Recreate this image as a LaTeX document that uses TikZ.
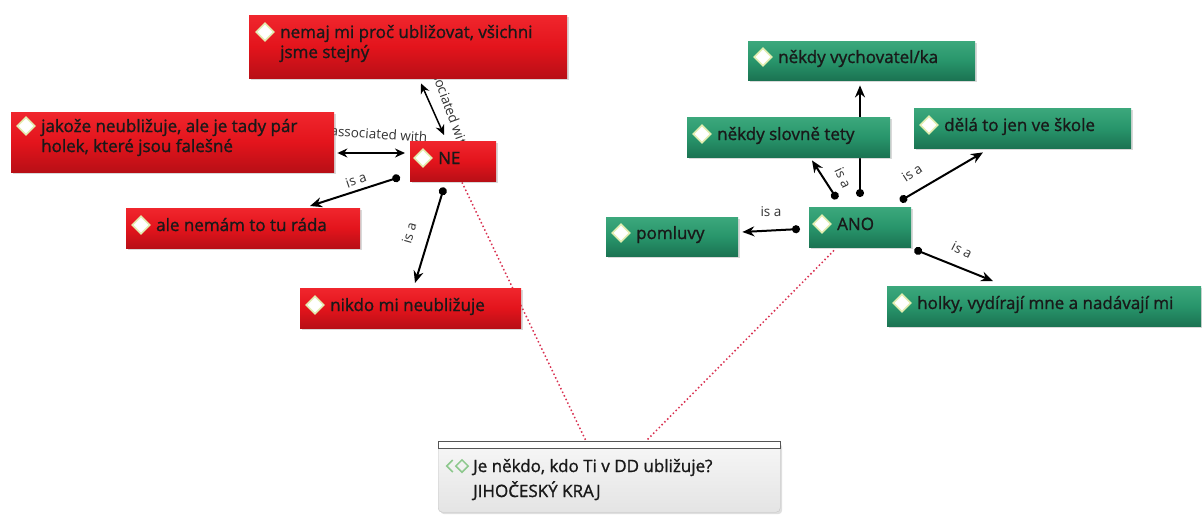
\documentclass[tikz,border=0pt]{standalone}
\usepackage{fontspec}
\setmainfont{Open Sans}
\newfontfamily\nodefont[FakeBold=1.2]{Open Sans}
\usetikzlibrary{calc,arrows.meta,shadows,shapes.geometric}
\definecolor{redT}{HTML}{F0262D}
\definecolor{redM}{HTML}{E3141C}
\definecolor{redB}{HTML}{B80F16}
\definecolor{grnT}{HTML}{3CA87C}
\definecolor{grnM}{HTML}{28956B}
\definecolor{grnB}{HTML}{1B7352}
\definecolor{lblc}{HTML}{333333}
\definecolor{dotc}{HTML}{D83050}
\definecolor{glow}{HTML}{E2EDB0}
\definecolor{qicon}{HTML}{8CC88C}
\definecolor{qtop}{HTML}{F7F7F7}
\definecolor{qbot}{HTML}{E4E4E4}
\definecolor{qline}{HTML}{C4C4C4}
\definecolor{qstrip}{HTML}{555555}
\pgfdeclarelayer{bg}
\pgfsetlayers{bg,main}
\newcommand\twol[2]{\vtop{\hbox{#1}\hbox{#2}}}
\tikzset{
 box/.style={anchor=north west, inner sep=0pt, draw=none, drop shadow={shadow xshift=2pt, shadow yshift=-2pt, opacity=0.3}},
 redbox/.style={box, top color=redT, bottom color=redB, middle color=redM},
 grnbox/.style={box, top color=grnT, bottom color=grnB, middle color=grnM},
 qbox/.style={anchor=north west, inner sep=0pt, draw=qline, rounded corners=4pt, top color=qtop, bottom color=qbot, drop shadow={shadow xshift=2pt, shadow yshift=-2pt, opacity=0.25}},
 txt/.style={anchor=base west, inner sep=0pt, font=\nodefont\fontsize{17}{20}\selectfont, text=black!90},
 icoglow/.style={diamond, fill=glow, draw=none, minimum width=20pt, minimum height=20pt, inner sep=0pt},
 ico/.style={diamond, fill=white, draw=none, minimum width=15pt, minimum height=15pt, inner sep=0pt},
 isa/.style={line width=2pt, {Circle[length=8pt,width=8pt]}-{Stealth[length=12pt,width=10pt]}},
 assoc/.style={line width=1.5pt, {Stealth[length=10pt,width=9pt]}-{Stealth[length=10pt,width=9pt]}},
 lbl/.style={inner sep=0pt, font=\fontsize{13.5}{15}\selectfont, text=lblc},
 link/.style={draw=dotc, line width=1.5pt, dash pattern=on 1.5pt off 2.5pt},
}
\begin{document}
\begin{tikzpicture}[x=1pt,y=-1pt]
\useasboundingbox (0,0) rectangle (1202,515);
% boxes
\node[redbox, minimum width=318pt, minimum height=63pt] (n1) at (249,15) {};
\node[redbox, minimum width=323pt, minimum height=60pt] (n2) at (11,112) {};
\node[redbox, minimum width=86pt, minimum height=40pt] (ne) at (410,141) {};
\node[redbox, minimum width=234pt, minimum height=40pt] (n3) at (126,208) {};
\node[redbox, minimum width=221pt, minimum height=40pt] (n4) at (300,288) {};
\node[grnbox, minimum width=227pt, minimum height=39pt] (g1) at (748,41) {};
\node[grnbox, minimum width=203pt, minimum height=40pt] (g2) at (687,117) {};
\node[grnbox, minimum width=217pt, minimum height=40pt] (g3) at (914,108) {};
\node[grnbox, minimum width=102pt, minimum height=40pt] (ano) at (809,207) {};
\node[grnbox, minimum width=132pt, minimum height=39pt] (g4) at (606,217) {};
\node[grnbox, minimum width=314pt, minimum height=40pt] (g5) at (887,286) {};
\node[qbox, minimum width=342pt, minimum height=71pt] (q) at (438,441) {};
\draw[fill=white, draw=qstrip, line width=0.8pt] (q.north west) rectangle ($(q.north east)+(0,7)$);
% texts
\node[txt] (t1) at ($(n1.north west)+(31,23)$) {\twol{nemaj mi proč ubližovat, všichni}{jsme stejný}};
\node[txt] (t2) at ($(n2.north west)+(30,20)$) {\twol{jakože neubližuje, ale je tady pár}{holek, které jsou falešné}};
\node[txt] (tne) at ($(ne.north west)+(28,23)$) {NE};
\node[txt] (t3) at ($(n3.north west)+(30,23)$) {ale nemám to tu ráda};
\node[txt] (t4) at ($(n4.north west)+(30,23)$) {nikdo mi neubližuje};
\node[txt] (tg1) at ($(g1.north west)+(30,22)$) {někdy vychovatel/ka};
\node[txt] (tg2) at ($(g2.north west)+(30,23)$) {někdy slovně tety};
\node[txt] (tg3) at ($(g3.north west)+(30,23)$) {dělá to jen ve škole};
\node[txt] (tano) at ($(ano.north west)+(28,23)$) {ANO};
\node[txt] (tg4) at ($(g4.north west)+(30,22)$) {pomluvy};
\node[txt] (tg5) at ($(g5.north west)+(30,23)$) {holky, vydírají mne a nadávají mi};
\node[txt, font=\nodefont\fontsize{17}{25}\selectfont] (tq) at ($(q.north west)+(35,31)$) {\twol{Je někdo, kdo Ti v DD ubližuje?}{JIHOČESKÝ KRAJ}};
% icons
\foreach \t in {t1,t2,tne,t3,t4,tg1,tg2,tg3,tano,tg4,tg5}{
  \node[icoglow] at ($(\t.base west)+(-15,-6)$) {};
  \node[ico] at ($(\t.base west)+(-15,-6)$) {};
}
\node[diamond, draw=qicon, line width=1.5pt, minimum width=13pt, minimum height=13pt, inner sep=0pt] (qi) at ($(tq.base west)+(-11,-6)$) {};
\draw[qicon, line width=1.5pt] ($(qi.west)+(-2,-6)$) -- ($(qi.west)+(-8,0)$) -- ($(qi.west)+(-2,6)$);
% connectors and labels behind boxes
\begin{pgfonlayer}{bg}
\draw[assoc] ($(n1.south west)+(172,5)$) -- ($(ne.north west)+(34,-6)$);
\draw[assoc] ($(n2.north east)+(3,41)$) -- ($(ne.north west)+(-5,12)$);
\draw[isa] ($(ne.north west)+(-10,36)$) -- ($(n3.north west)+(184,-2)$);
\draw[isa] ($(ne.south west)+(34,6)$) -- ($(n4.north west)+(115,-5)$);
\draw[isa] ($(ano.north west)+(28,-8)$) -- ($(g2.south west)+(125,3)$);
\draw[isa] ($(ano.north west)+(51,-10)$) -- ($(g1.south west)+(112,5)$);
\draw[isa] ($(ano.north west)+(91,-6)$) -- ($(g3.south west)+(69,4)$);
\draw[isa] ($(ano.north west)+(-9,22)$) -- ($(g4.north east)+(4,15)$);
\draw[isa] ($(ano.south east)+(3,2)$) -- ($(g5.north west)+(106,-5)$);
\draw[link] ($(ne.south west)+(52,1)$) -- ($(q.north west)+(148,0)$);
\draw[link] ($(ano.south west)+(25,3)$) -- ($(q.north west)+(208,0)$);
\node[lbl, rotate=-70] (l1) at (449,106) {associated with};
\node[lbl, rotate=-4] (l2) at (379,134) {associated with};
\node[lbl, rotate=19] (l3) at (356,180) {is a};
\node[lbl, rotate=74] (l4) at (409,233) {is a};
\node[lbl] (l5) at (771,212) {is a};
\node[lbl, rotate=-65] (l6) at (843,178) {is a};
\node[lbl, rotate=33] (l7) at (912,173) {is a};
\node[lbl, rotate=-27] (l8) at (962,250) {is a};
\end{pgfonlayer}
\end{tikzpicture}
\end{document}
